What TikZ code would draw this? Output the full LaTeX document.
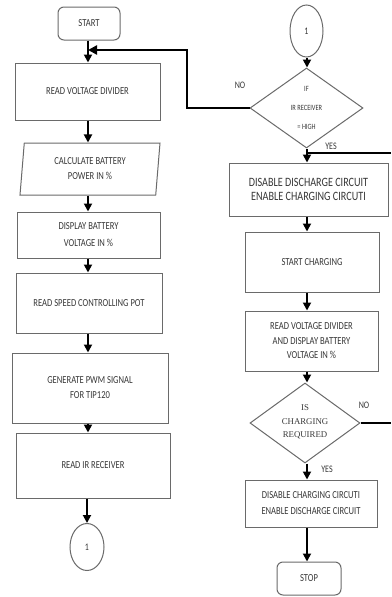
\documentclass[tikz,border=0pt]{standalone}
\usepackage{fontspec}
\setmainfont{Carlito}[FakeStretch=0.8]
\newfontfamily\seriffont{Liberation Serif}
\usetikzlibrary{shapes.geometric,arrows.meta}
\definecolor{boxline}{HTML}{6A6A6A}
\definecolor{txtc}{HTML}{383838}
\begin{document}
\begin{tikzpicture}[x=1pt,y=-1pt,
  box/.style={draw=boxline,line width=1pt,rectangle,inner sep=0pt,align=center,text=txtc,font=\fontsize{10.7}{15}\selectfont},
  term/.style={box,rounded corners=6pt},
  conn/.style={draw=boxline,ellipse,inner sep=0pt,line width=1pt,text=txtc,font=\fontsize{10}{10}\selectfont},
  dia/.style={draw=boxline,diamond,inner sep=0pt,line width=1pt},
  diatext/.style={inner sep=0pt,align=center,text=txtc},
  arr/.style={-{Triangle[length=8pt,width=8pt]},line width=1.8pt,black},
  heavy/.style={line width=2.6pt,black},
  lbl/.style={text=txtc,font=\fontsize{10}{10}\selectfont,inner sep=0pt}
]
\useasboundingbox (0,0) rectangle (391,597);
\fill[white] (0,0) rectangle (391,597);

% left column
\coordinate (L) at (88,0);
\node[term,minimum width=62pt,minimum height=33pt] (start) at (89,23.5) {START};
\node[box,minimum width=145pt,minimum height=57pt] (rvd) at (87.5,91.5) {READ VOLTAGE DIVIDER};
\node[box,trapezium,trapezium left angle=79,trapezium right angle=101,trapezium stretches body,minimum width=140pt,minimum height=52pt] (calc) at (90,169) {CALCULATE BATTERY\\POWER IN \%};
\node[box,minimum width=143pt,minimum height=46pt,font=\fontsize{10.7}{17}\selectfont] (disp) at (88.5,235) {DISPLAY BATTERY\\VOLTAGE IN \%};
\node[box,minimum width=146pt,minimum height=60pt] (pot) at (89,303) {READ SPEED CONTROLLING POT};
\node[box,minimum width=156pt,minimum height=70pt] (pwm) at (90,388) {GENERATE PWM SIGNAL\\FOR TIP120};
\node[box,minimum width=154pt,minimum height=65pt] (irr) at (93,465.5) {READ IR RECEIVER};
\node[conn,minimum width=34pt,minimum height=47pt] (c1) at (87,547) {1};

\draw[arr] (L |- start.south) -- (L |- rvd.north);
\draw[arr] (L |- rvd.south) -- (L |- calc.north);
\draw[arr] (L |- calc.south) -- (L |- disp.north);
\draw[arr] (L |- disp.south) -- (L |- pot.north);
\draw[arr] (L |- pot.south) -- (L |- pwm.north);
\draw[arr] (L |- pwm.south) -- (L |- irr.north);
\draw[arr] (c1 |- irr.south) -- (c1.north);

% right column
\coordinate (R) at (307,0);
\node[conn,minimum width=33pt,minimum height=52pt] (c2) at (306.5,31) {1};
\node[dia,minimum width=113pt,minimum height=80pt] (d1) at (306.5,108) {};
\node[diatext,font=\fontsize{8}{19}\selectfont] (d1t) at (306.5,108) {IF\\IR RECEIVER\\= HIGH};
\node[box,minimum width=159pt,minimum height=53pt,font=\fontsize{12.7}{14.5}\selectfont] (b1) at (308.5,189.5) {DISABLE DISCHARGE CIRCUIT\\ENABLE CHARGING CIRCUTI};
\node[box,minimum width=134pt,minimum height=60pt] (b2) at (312,262) {START CHARGING};
\node[box,minimum width=133pt,minimum height=60pt,font=\fontsize{10.7}{14.5}\selectfont] (b3) at (311.5,341) {READ VOLTAGE DIVIDER\\AND DISPLAY BATTERY\\VOLTAGE IN \%};
\node[dia,minimum width=110pt,minimum height=80pt] (d2) at (305,423) {};
\node[diatext,font=\seriffont\fontsize{8.8}{13.5}\selectfont] (d2t) at (305,422) {IS\\CHARGING\\REQUIRED};
\node[box,minimum width=132pt,minimum height=47pt,font=\fontsize{10.7}{16}\selectfont] (b4) at (311,503.5) {DISABLE CHARGING CIRCUTI\\ENABLE DISCHARGE CIRCUIT};
\node[term,minimum width=64pt,minimum height=33pt] (stop) at (309,578.5) {STOP};

\draw[arr] (R |- c2.south) -- (R |- d1.north);
\draw[arr] (R |- d1.south) -- (R |- b1.north);
\draw[arr] (R |- b1.south) -- (R |- b2.north);
\draw[arr] (R |- b2.south) -- (R |- b3.north);
\draw[arr] (R |- b3.south) -- (R |- d2.north);
\draw[arr] (R |- d2.south) -- (R |- b4.north);
\draw[arr] (R |- b4.south) -- (R |- stop.north);

% feedback (NO) to top of left column
\coordinate (K) at (187,0);
\coordinate (J) at (88,50);
\draw[heavy,-{Triangle[length=9pt,width=9pt]}] (d1.west) -- (K |- d1.west) -- (K |- J) -- (J);

% YES line to the right edge
\coordinate (E1) at (391,153);
\draw[heavy] (R |- E1) -- (E1);

% NO line to the right edge
\coordinate (E2) at (391,423);
\draw[heavy] (d2.east) -- (E2 |- d2.east);

% labels
\node[lbl] (no1) at (240,85) {NO};
\node[lbl] (yes1) at (331,146) {YES};
\node[lbl] (no2) at (364,405) {NO};
\node[lbl] (yes2) at (327,469) {YES};
\end{tikzpicture}
\end{document}
